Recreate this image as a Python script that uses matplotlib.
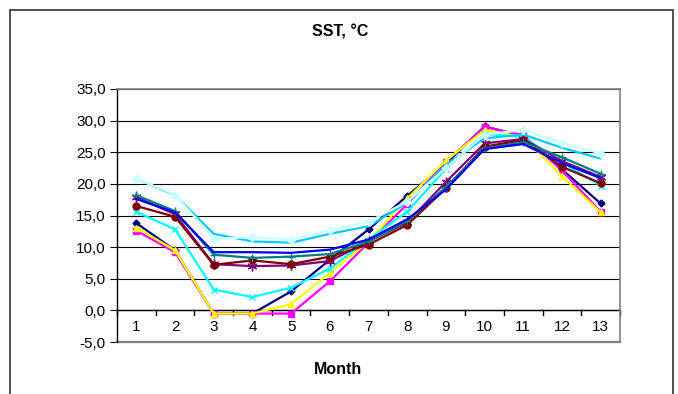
import matplotlib
matplotlib.use("Agg")
import matplotlib.pyplot as plt
from matplotlib.patches import Rectangle
from matplotlib.ticker import FuncFormatter, FixedLocator

plt.rcParams['font.family'] = ['Liberation Sans Narrow', 'Liberation Sans', 'DejaVu Sans']

months = list(range(1, 14))

s_navy    = [13.8, 9.5, -0.5, -0.5, 3.0, 8.0, 12.8, 18.1, 23.2, 29.1, 27.5, 22.3, 16.9]
s_magenta = [12.6, 9.2, -0.5, -0.5, -0.5, 4.6, 10.7, 16.8, 23.5, 29.0, 27.7, 22.1, 15.6]
s_yellow  = [13.1, 9.5, -0.5, -0.5, 1.0, 5.9, 10.9, 17.7, 23.7, 28.5, 27.4, 21.2, 15.5]
s_cyan    = [15.6, 12.8, 3.3, 2.1, 3.6, 6.6, 11.2, 15.6, 22.4, 27.9, 27.4, 23.4, 19.7]
s_purple  = [17.9, 15.2, 7.3, 7.0, 7.1, 7.8, 10.9, 13.9, 20.3, 26.4, 27.1, 23.6, 21.1]
s_maroon  = [16.5, 14.8, 7.2, 7.9, 7.3, 8.5, 10.4, 13.5, 19.3, 25.9, 26.9, 22.7, 20.1]
s_teal    = [18.2, 15.7, 8.8, 8.3, 8.5, 8.9, 10.9, 14.1, 19.5, 25.6, 26.6, 24.2, 21.6]
s_blue    = [17.6, 15.5, 9.2, 9.2, 9.1, 9.6, 11.2, 14.4, 19.1, 25.5, 26.3, 23.3, 20.9]
s_sky     = [20.8, 18.2, 12.1, 10.9, 10.7, 12.1, 13.3, 17.0, 23.0, 27.2, 27.8, 25.7, 24.0]
s_pale    = [20.8, 18.3, 11.3, 11.6, 11.2, 12.7, 14.0, 17.2, 22.5, 27.8, 28.5, 26.5, 24.8]

yticks = [-5, 0, 5, 10, 15, 20, 25, 30, 35]

series = [
    (s_navy, '#000080', 'D', 3.5),
    (s_magenta, '#FF00FF', 's', 4),
    (s_yellow, '#FFFF00', '^', 5),
    (s_cyan, '#00FFFF', 'x', 5),
    (s_purple, '#800080', (6, 2, 0), 7),
    (s_maroon, '#800000', 'o', 5),
    (s_teal, '#008080', '+', 6),
    (s_blue, '#0000FF', None, 0),
    (s_sky, '#00CCFF', None, 0),
    (s_pale, '#CCFFFF', 'D', 4),
]

fig = plt.figure(figsize=(6.78, 3.94), dpi=100)
ax = fig.add_axes([117/678, 1-342/394, (620-117)/678, (342-89)/394])

for vals, col, mk, ms in series:
    ax.plot(months, vals, color=col, lw=1.6, marker=mk, markersize=ms,
            markeredgecolor=col, markerfacecolor=col, markeredgewidth=1.0,
            clip_on=False, zorder=3)

ax.set_xlim(0.5, 13.5)
ax.set_ylim(-5, 35)
ax.set_yticks(yticks)
ax.yaxis.set_major_formatter(FuncFormatter(lambda v, p: f"{v:.1f}".replace('.', ',')))
ax.grid(axis='y', color='#000000', lw=0.8, zorder=1)
ax.set_axisbelow(True)

# x axis crossing at 0
ax.spines['bottom'].set_visible(False)
for s in ['top', 'right']:
    ax.spines[s].set_color('#808080')
    ax.spines[s].set_linewidth(1.2)
ax.spines['left'].set_color('#000000')
ax.spines['left'].set_linewidth(1.0)
ax.axhline(-5, color='#808080', lw=1.6, zorder=2, clip_on=False)
ax.axhline(0, color='#000000', lw=1.0, zorder=2)

ax.set_xticks([])
for i in range(14):
    ax.plot([0.5 + i, 0.5 + i], [0, -0.75], color='#000000', lw=1.0, clip_on=False, zorder=2)
for m in months:
    ax.text(m, -1.6, str(m), ha='center', va='top', fontsize=11)

ax.tick_params(axis='y', direction='out', length=5, labelsize=11, color='#000000', pad=3)

fig.text(340/678, 1-32/394, 'SST, °C', ha='center', va='center', fontsize=11.5, fontweight='bold')
fig.text(338/678, 1-370/394, 'Month', ha='center', va='center', fontsize=11.5, fontweight='bold')

fig.patches.append(Rectangle((10/678, -0.2), (673-10)/678, 1.2 - 10/394,
                             transform=fig.transFigure, fill=False,
                             edgecolor='#333333', lw=1.2))

fig.savefig('out.png', dpi=100, facecolor='white')
